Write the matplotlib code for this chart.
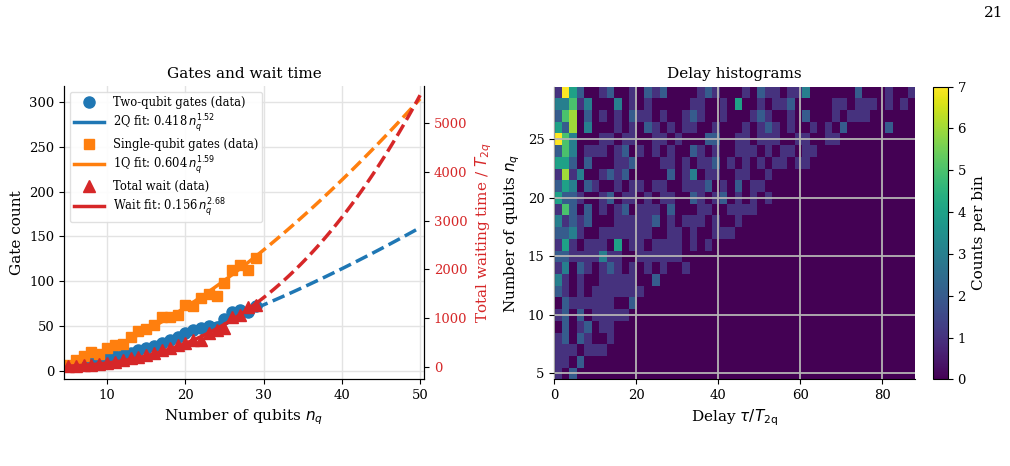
import numpy as np
import matplotlib
matplotlib.use("Agg")
import matplotlib.pyplot as plt

plt.rcParams['font.family'] = 'serif'
plt.rcParams['mathtext.fontset'] = 'dejavusans'

# --- left panel data ---
n_qubits = list(range(5, 30))
gates_2q = [5, 6, 8, 10, 11, 14, 16, 18, 20, 23, 25, 28, 31, 34, 38, 42, 45, 48, 50, 49, 58, 65, 68, 66, 72]
gates_1q = [6, 12, 16, 21, 19, 25, 29, 30, 38, 44, 47, 51, 60, 60, 62, 73, 72, 81, 86, 83, 98, 113, 118, 112, 126]
total_wait = [12, 20, 30, 42, 56, 70, 100, 135, 170, 205, 240, 275, 340, 375, 445, 480, 545, 550, 685, 750, 790, 1030, 1060, 1230, 1270]

# power-law fits a * n^b (from legend)
fit_2q = (0.418, 1.52)
fit_1q = (0.604, 1.59)
fit_wait = (0.156, 2.68)

# --- right panel: delay histogram counts, one string per n (29 at top), 48 bins over 0..88 ---
delay_max = 88
n_bins = 48
hist_rows = {
    29: "174200120010212000012100010211011300000020001001",
    28: "335130003010100000110010400101120000011011101010",
    27: "256020101021101001210010001210010200010111000000",
    26: "426030001010210101100100010121010010102000002000",
    25: "753000110110011010002200110111001100110000000000",
    24: "253011101201010100210100111010110110",
    23: "442020001120001101011201010101101100",
    22: "161300121200000201301100110010",
    21: "243021001011011001112010201100",
    20: "422100120110101100210120101010",
    19: "152020101201110200011001111",
    18: "312120001111120101110100100",
    17: "223100111111100110100111",
    16: "141011104011011110101000",
    15: "22111131100111111",
    14: "130210121010101001",
    13: "3101001111100200",
    12: "210101111111",
    11: "021111110020",
    10: "120201111100",
    9: "02012011",
    8: "12021001",
    7: "11101110",
    6: "1102",
    5: "1020",
}

rows = list(range(5, 30))
counts = np.array([[int(c) for c in hist_rows[n].ljust(n_bins, '0')] for n in rows])

fig = plt.figure(figsize=(10.1, 4.66), dpi=100)

# ---------- left: gates and wait time ----------
c_blue, c_orange, c_red = '#1f77b4', '#ff7f0e', '#d62728'
ax1 = fig.add_axes([0.0634, 0.1867, 0.3564, 0.6288])
ax2 = ax1.twinx()

n_in = np.linspace(5, 29, 100)
n_out = np.linspace(29, 50, 100)

ax1.plot(n_qubits, gates_2q, 'o', color=c_blue, ms=8, label='Two-qubit gates (data)')
ax1.plot(n_in, fit_2q[0] * n_in ** fit_2q[1], '-', color=c_blue, lw=2.5,
         label=r'2Q fit: 0.418$\,n_q^{1.52}$')
ax1.plot(n_out, fit_2q[0] * n_out ** fit_2q[1], '--', color=c_blue, lw=2.5)
ax1.plot(n_qubits, gates_1q, 's', color=c_orange, ms=7.5, label='Single-qubit gates (data)')
ax1.plot(n_in, fit_1q[0] * n_in ** fit_1q[1], '-', color=c_orange, lw=2.5,
         label=r'1Q fit: 0.604$\,n_q^{1.59}$')
ax1.plot(n_out, fit_1q[0] * n_out ** fit_1q[1], '--', color=c_orange, lw=2.5)

ax2.plot(n_qubits, total_wait, '^', color=c_red, ms=8.5, label='Total wait (data)')
ax2.plot(n_in, fit_wait[0] * n_in ** fit_wait[1], '-', color=c_red, lw=2.5,
         label=r'Wait fit: 0.156$\,n_q^{2.68}$')
ax2.plot(n_out, fit_wait[0] * n_out ** fit_wait[1], '--', color=c_red, lw=2.5)

ax1.set_xlim(4.5, 50.5)
ax1.set_ylim(-9.3, 318)
ax2.set_ylim(-253, 5766)
ax1.set_xticks([10, 20, 30, 40, 50])
ax1.set_yticks(range(0, 301, 50))
ax2.set_yticks(range(0, 5001, 1000))
ax1.grid(True, color='#e3e3e3', lw=1)
ax1.set_axisbelow(True)
for a in (ax1, ax2):
    a.spines['top'].set_visible(False)
    a.tick_params(labelsize=9.5)
ax2.tick_params(axis='y', labelcolor=c_red)
ax1.set_xlabel('Number of qubits $n_q$', fontsize=11)
ax1.set_ylabel('Gate count', fontsize=11)
ax2.set_ylabel('Total waiting time / $T_{2q}$', fontsize=11, color=c_red)
ax1.set_title('Gates and wait time', fontsize=11)

h1, l1 = ax1.get_legend_handles_labels()
h2, l2 = ax2.get_legend_handles_labels()
ax2.legend(h1 + h2, l1 + l2, loc='upper left', fontsize=8.3, handlelength=2.6,
           labelspacing=0.3, borderpad=0.35, framealpha=0.9, edgecolor='#dddddd')

# ---------- right: delay histograms ----------
ax3 = fig.add_axes([0.5488, 0.186, 0.3572, 0.628])
xedges = np.linspace(0, delay_max, n_bins + 1)
yedges = np.arange(4.5, 30.5, 1)
mesh = ax3.pcolormesh(xedges, yedges, counts, cmap='viridis', vmin=0, vmax=7)
ax3.set_xlim(0, delay_max)
ax3.set_ylim(4.5, 29.5)
ax3.set_xticks([0, 20, 40, 60, 80])
ax3.set_yticks([5, 10, 15, 20, 25])
ax3.set_axisbelow(False)
ax3.grid(True, color='#b4b4b4', lw=1.3)
ax3.spines['top'].set_visible(False)
ax3.spines['right'].set_visible(False)
ax3.tick_params(labelsize=9.5)
ax3.set_xlabel(r'Delay $\tau/T_{\mathrm{2q}}$', fontsize=11)
ax3.set_ylabel('Number of qubits $n_q$', fontsize=11)
ax3.set_title('Delay histograms', fontsize=11)

cax = fig.add_axes([0.9235, 0.186, 0.0149, 0.628])
cb = fig.colorbar(mesh, cax=cax)
cb.set_ticks(range(0, 8))
cb.ax.tick_params(labelsize=9.5)
cb.set_label('Counts per bin', fontsize=11)

fig.text(0.984, 0.972, '21', ha='center', va='center', fontsize=11)

fig.savefig('out.png', dpi=100)
